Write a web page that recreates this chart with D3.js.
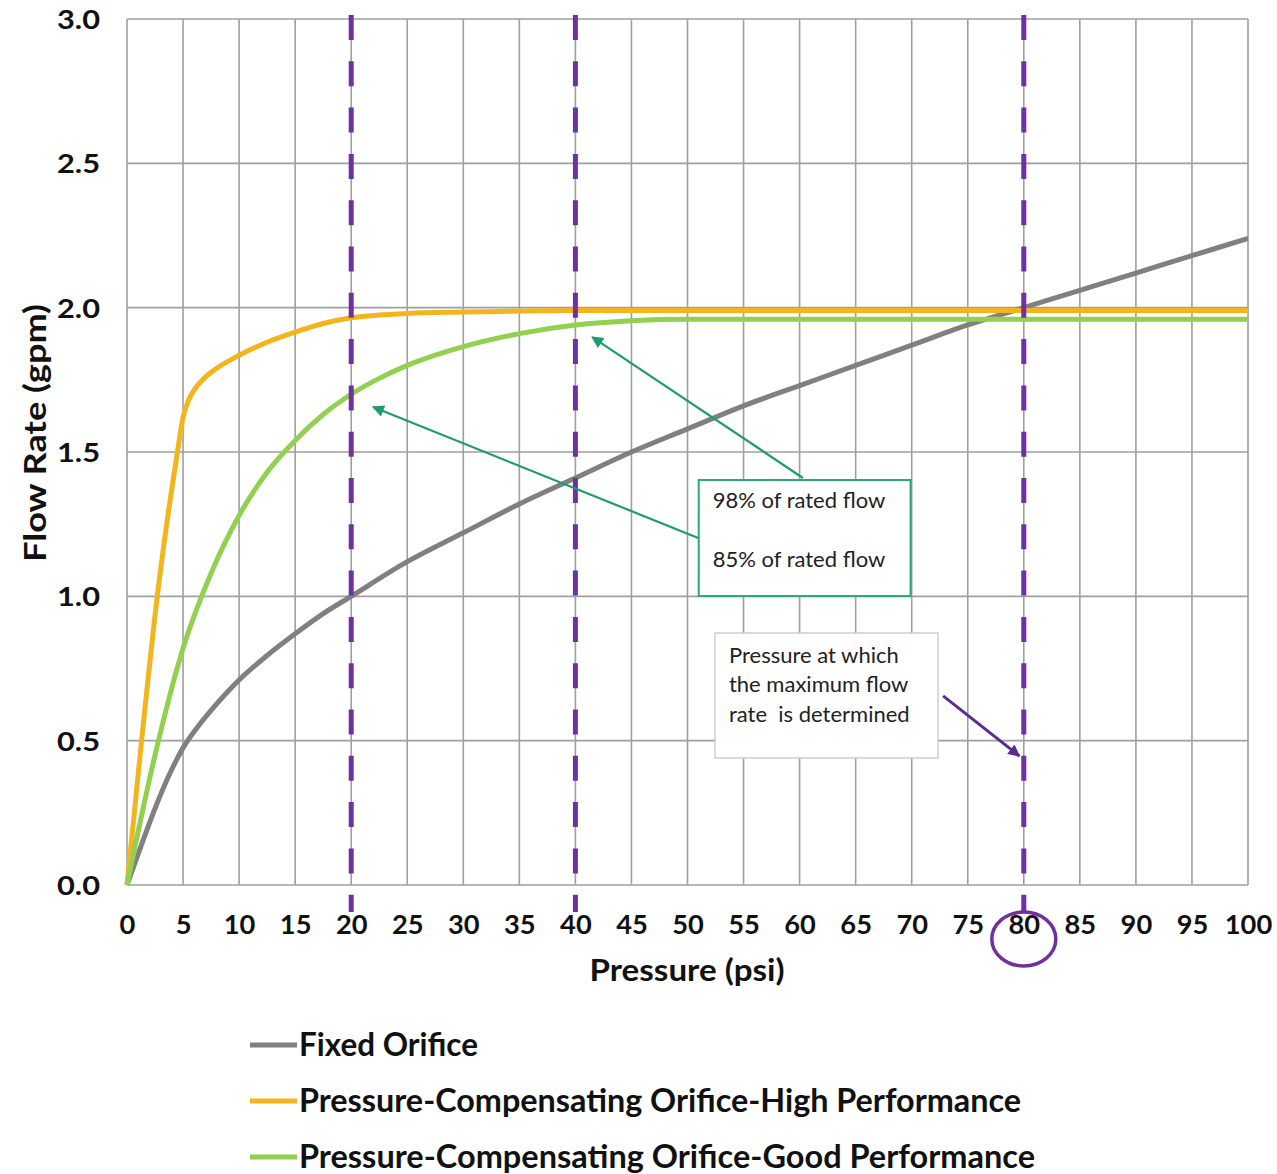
<!DOCTYPE html>
<html>
<head>
    <meta charset="utf-8">
    <title>Flow Rate vs Pressure</title>
    <script src="https://cdn.jsdelivr.net/npm/d3@7"></script>
    <style>
        body { margin: 0; background: #fff; }
        text { font-family: Lato, "Open Sans", sans-serif; }
    </style>
</head>
<body>
<script>
    // axis ticks
    var xTicks = [0, 5, 10, 15, 20, 25, 30, 35, 40, 45, 50, 55, 60, 65, 70, 75, 80, 85, 90, 95, 100];
    var yTicks = [0, 0.5, 1.0, 1.5, 2.0, 2.5, 3.0];
    // pressures marked with the dashed purple lines
    var markerPressures = [20, 40, 80];

    // series values (psi -> gpm)
    var fixedPressure = [0, 1.25, 2.5, 3.75, 5, 6.25, 7.5, 8.75, 10, 12.5, 15, 17.5, 20, 25, 30, 35, 40, 45, 50, 55, 60, 65, 70, 75, 80, 85, 90, 95, 100];
    var fixedFlow     = [0, 0.135, 0.265, 0.38, 0.475, 0.545, 0.605, 0.66, 0.71, 0.795, 0.87, 0.94, 1.00, 1.12, 1.22, 1.32, 1.41, 1.50, 1.58, 1.66, 1.73, 1.80, 1.87, 1.94, 2.00, 2.06, 2.12, 2.18, 2.24];

    var highPressure = [0, 1.3, 2.7, 4.5, 5, 5.5, 6, 7, 8, 10, 12.5, 15, 17.5, 20, 25, 30, 40, 50, 60, 70, 80, 90, 100];
    var highFlow     = [0, 0.5, 1.0, 1.5, 1.62, 1.68, 1.715, 1.76, 1.79, 1.835, 1.88, 1.915, 1.945, 1.965, 1.98, 1.985, 1.99, 1.99, 1.99, 1.99, 1.99, 1.99, 1.99];

    var goodPressure = [0, 2.5, 5, 7.5, 10, 12.5, 15, 17.5, 20, 22.5, 25, 30, 35, 40, 45, 50, 60, 70, 80, 90, 100];
    var goodFlow     = [0, 0.45, 0.82, 1.08, 1.28, 1.43, 1.54, 1.63, 1.70, 1.755, 1.80, 1.865, 1.91, 1.94, 1.955, 1.96, 1.96, 1.96, 1.96, 1.96, 1.96];

    var seriesNames  = ["Fixed Orifice",
                        "Pressure-Compensating Orifice-High Performance",
                        "Pressure-Compensating Orifice-Good Performance"];
    var seriesColors = ["#808080", "#f2b51d", "#92d050"];
    // widths the legend labels take in the picture
    var legendWidths = [179, 722, 736];

    var _width = 1277, _height = 1174,
        _margins = {top: 19, left: 127, right: 29, bottom: 289};

    function quadrantWidth() { return _width - _margins.left - _margins.right; }
    function quadrantHeight() { return _height - _margins.top - _margins.bottom; }

    var x = d3.scaleLinear().domain([0, 100]).range([0, quadrantWidth()]);
    var y = d3.scaleLinear().domain([0, 3]).range([quadrantHeight(), 0]);

    function zip(ps, qs) {
        return ps.map(function (p, i) { return {x: p, y: qs[i]}; });
    }
    var data = [zip(fixedPressure, fixedFlow), zip(highPressure, highFlow), zip(goodPressure, goodFlow)];

    var svg = d3.select("body").append("svg")
        .attr("width", _width)
        .attr("height", _height);

    svg.append("rect").attr("width", _width).attr("height", _height).attr("fill", "#fff");

    var defs = svg.append("defs");
    function arrowMarker(id, color) {
        defs.append("marker")
            .attr("id", id)
            .attr("viewBox", "0 0 10 10")
            .attr("refX", 9).attr("refY", 5)
            .attr("markerUnits", "userSpaceOnUse")
            .attr("markerWidth", 14).attr("markerHeight", 12)
            .attr("orient", "auto")
            .append("path")
            .attr("d", "M0,0 L10,5 L0,10 z")
            .attr("fill", color);
    }
    arrowMarker("arrow-green", "#1f9c6c");
    arrowMarker("arrow-purple", "#5a2d8c");

    var bodyG = svg.append("g")
        .attr("transform", "translate(" + _margins.left + "," + _margins.top + ")");

    // grid lines
    bodyG.append("g").attr("class", "grid-x")
        .selectAll("line").data(xTicks).enter().append("line")
        .attr("x1", function (d) { return x(d); })
        .attr("x2", function (d) { return x(d); })
        .attr("y1", 0).attr("y2", quadrantHeight())
        .attr("stroke", "#9f9f9f").attr("stroke-width", 1.6);

    bodyG.append("g").attr("class", "grid-y")
        .selectAll("line").data(yTicks).enter().append("line")
        .attr("x1", 0).attr("x2", quadrantWidth())
        .attr("y1", function (d) { return y(d); })
        .attr("y2", function (d) { return y(d); })
        .attr("stroke", "#9f9f9f").attr("stroke-width", 1.6);

    // axes: labels only, the grid draws the lines
    var xAxis = d3.axisBottom(x).tickValues(xTicks).tickSize(0).tickPadding(49)
        .tickFormat(d3.format("d"));
    var xAxisG = bodyG.append("g")
        .attr("transform", "translate(0," + quadrantHeight() + ")")
        .call(xAxis);
    xAxisG.select(".domain").remove();
    xAxisG.selectAll("text")
        .attr("dy", 0)
        .attr("textLength", function (d) { return String(d).length * 15.8; })
        .attr("lengthAdjust", "spacingAndGlyphs")
        .style("font-size", "26px").style("font-weight", "bold").style("font-family", "Lato")
        .attr("fill", "#111");

    var yAxis = d3.axisLeft(y).tickValues(yTicks).tickSize(0).tickPadding(27)
        .tickFormat(d3.format(".1f"));
    var yAxisG = bodyG.append("g").call(yAxis);
    yAxisG.select(".domain").remove();
    yAxisG.selectAll("text")
        .attr("dy", "0.36em")
        .attr("textLength", 43)
        .attr("lengthAdjust", "spacingAndGlyphs")
        .style("font-size", "26px").style("font-weight", "bold").style("font-family", "Lato")
        .attr("fill", "#111");

    // axis titles
    svg.append("text")
        .attr("x", 687).attr("y", 981)
        .attr("text-anchor", "middle")
        .attr("textLength", 195)
        .attr("lengthAdjust", "spacingAndGlyphs")
        .style("font-size", "30px").style("font-weight", "bold")
        .attr("fill", "#111")
        .text("Pressure (psi)");

    svg.append("text")
        .attr("transform", "translate(46,433) rotate(-90)")
        .attr("text-anchor", "middle")
        .attr("textLength", 258)
        .attr("lengthAdjust", "spacingAndGlyphs")
        .style("font-size", "30px").style("font-weight", "bold")
        .attr("fill", "#111")
        .text("Flow Rate (gpm)");

    // series lines
    var line = d3.line()
        .curve(d3.curveMonotoneX)
        .x(function (d) { return x(d.x); })
        .y(function (d) { return y(d.y); });

    bodyG.selectAll("path.line")
        .data(data)
        .enter().append("path")
        .attr("class", "line")
        .attr("d", line)
        .attr("fill", "none")
        .attr("stroke", function (d, i) { return seriesColors[i]; })
        .attr("stroke-width", 5)
        .attr("stroke-linejoin", "round");

    // dashed reference lines
    bodyG.selectAll("line.marker")
        .data(markerPressures)
        .enter().append("line")
        .attr("class", "marker")
        .attr("x1", function (d) { return x(d); })
        .attr("x2", function (d) { return x(d); })
        .attr("y1", -4)
        .attr("y2", quadrantHeight() + 27)
        .attr("stroke", "#7030a0")
        .attr("stroke-width", 5)
        .attr("stroke-dasharray", "25,21.3");

    // circle round the 80 psi label
    bodyG.append("ellipse")
        .attr("cx", x(80)).attr("cy", quadrantHeight() + 54)
        .attr("rx", 32).attr("ry", 27)
        .attr("fill", "none")
        .attr("stroke", "#7030a0")
        .attr("stroke-width", 3.5);

    // annotation boxes (in data units)
    var greenBox = {x0: 51.0, x1: 69.9, y0: 1.001, y1: 1.403};
    var grayBox = {x0: 52.45, x1: 72.35, y0: 0.44, y1: 0.873};

    // green arrows from the box to the curves
    var greenArrows = [
        {from: [60.3, 1.41], to: [41.5, 1.898]},
        {from: [50.95, 1.202], to: [21.95, 1.656]}
    ];
    bodyG.selectAll("line.green-arrow")
        .data(greenArrows)
        .enter().append("line")
        .attr("class", "green-arrow")
        .attr("x1", function (d) { return x(d.from[0]); })
        .attr("y1", function (d) { return y(d.from[1]); })
        .attr("x2", function (d) { return x(d.to[0]); })
        .attr("y2", function (d) { return y(d.to[1]); })
        .attr("stroke", "#1f9c6c")
        .attr("stroke-width", 2.2)
        .attr("marker-end", "url(#arrow-green)");

    bodyG.append("rect")
        .attr("x", x(greenBox.x0)).attr("y", y(greenBox.y1))
        .attr("width", x(greenBox.x1) - x(greenBox.x0))
        .attr("height", y(greenBox.y0) - y(greenBox.y1))
        .attr("fill", "#fff")
        .attr("stroke", "#2aa878").attr("stroke-width", 2);

    bodyG.append("text")
        .attr("x", x(greenBox.x0) + 14).attr("y", y(greenBox.y1) + 28)
        .style("font-size", "22px").attr("fill", "#222")
        .text("98% of rated flow");
    bodyG.append("text")
        .attr("x", x(greenBox.x0) + 14).attr("y", y(greenBox.y1) + 87)
        .style("font-size", "22px").attr("fill", "#222")
        .text("85% of rated flow");

    bodyG.append("rect")
        .attr("x", x(grayBox.x0)).attr("y", y(grayBox.y1))
        .attr("width", x(grayBox.x1) - x(grayBox.x0))
        .attr("height", y(grayBox.y0) - y(grayBox.y1))
        .attr("fill", "#fff")
        .attr("stroke", "#c8c8c8").attr("stroke-width", 1.3);

    var grayLines = ["Pressure at which", "the maximum flow", "rate  is determined"];
    bodyG.append("text")
        .attr("x", x(grayBox.x0) + 14).attr("y", y(grayBox.y1) + 30)
        .style("font-size", "22px").attr("fill", "#222")
        .attr("xml:space", "preserve")
        .selectAll("tspan").data(grayLines).enter().append("tspan")
        .attr("x", x(grayBox.x0) + 14)
        .attr("dy", function (d, i) { return i === 0 ? 0 : 29.5; })
        .text(function (d) { return d; });

    // purple arrow to the 80 psi line
    bodyG.append("line")
        .attr("x1", x(72.8)).attr("y1", y(0.655))
        .attr("x2", x(79.6)).attr("y2", y(0.447))
        .attr("stroke", "#5a2d8c")
        .attr("stroke-width", 3)
        .attr("marker-end", "url(#arrow-purple)");

    // legend
    var legendG = svg.append("g").attr("transform", "translate(250,1045)");
    var legendItem = legendG.selectAll("g")
        .data(seriesNames)
        .enter().append("g")
        .attr("transform", function (d, i) { return "translate(0," + (i * 56) + ")"; });
    legendItem.append("line")
        .attr("x1", 0).attr("x2", 47)
        .attr("stroke", function (d, i) { return seriesColors[i]; })
        .attr("stroke-width", 5);
    legendItem.append("text")
        .attr("x", 49).attr("y", 11)
        .attr("textLength", function (d, i) { return legendWidths[i]; })
        .attr("lengthAdjust", "spacingAndGlyphs")
        .style("font-size", "32px").style("font-weight", "bold")
        .attr("fill", "#111")
        .text(function (d) { return d; });
</script>
</body>
</html>
